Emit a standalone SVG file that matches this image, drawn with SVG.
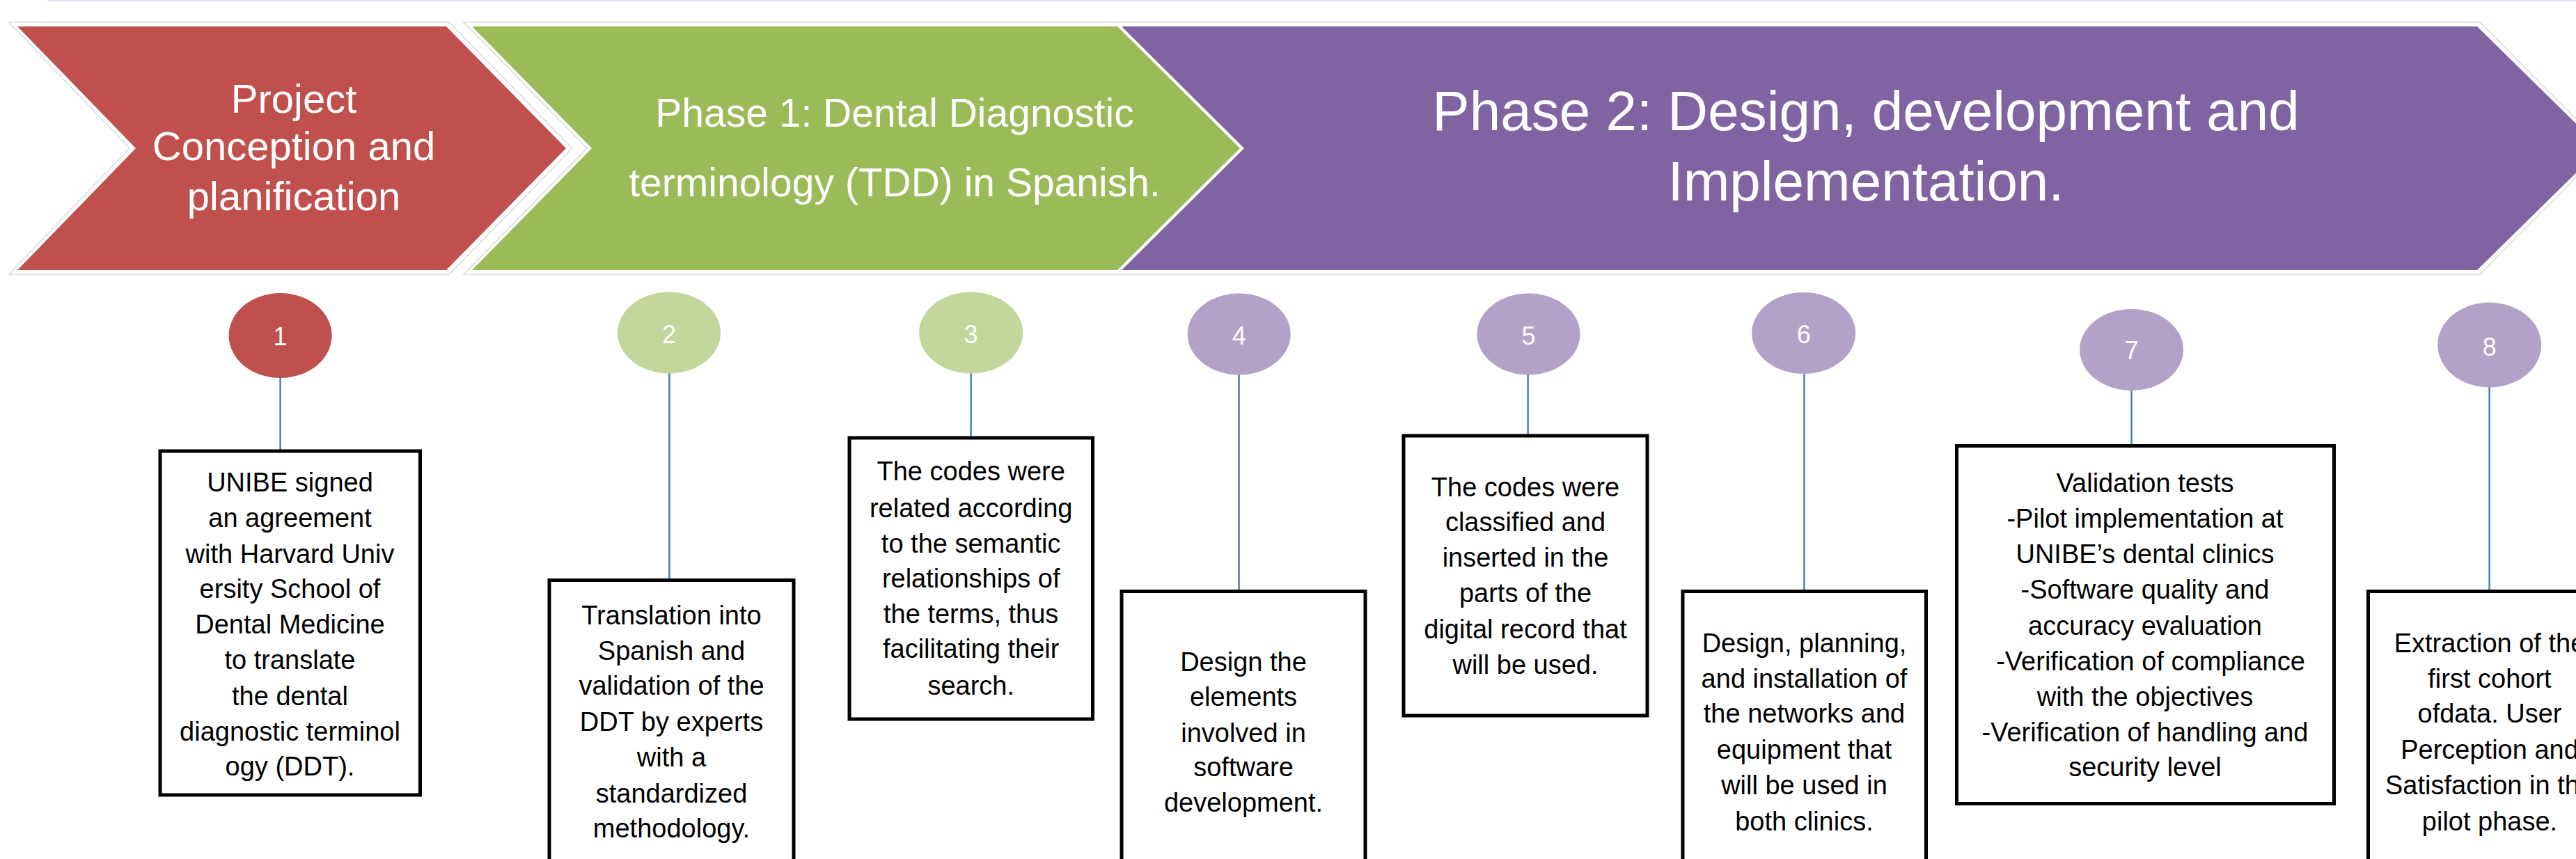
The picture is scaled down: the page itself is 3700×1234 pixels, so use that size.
<svg xmlns="http://www.w3.org/2000/svg" width="3700" height="1234" viewBox="0 0 3700 1234">
<style>
.outer{fill:#fff;stroke:#d9d9d9;stroke-width:1.5}
.title{font-family:"Liberation Sans",Arial,sans-serif;fill:#fff;text-anchor:middle}
.num{font-family:"Liberation Sans",Arial,sans-serif;font-size:36px;fill:#fff;text-anchor:middle}
.box{fill:#fff;stroke:#000;stroke-width:5}
.bt{font-family:"Liberation Sans",Arial,sans-serif;font-size:38px;fill:#000;text-anchor:middle}
.conn{stroke:#4A7EBB;stroke-width:2.5;fill:none}
.cr{fill:#C0504D}
.cg{fill:#C3D69B}
.cp{fill:#B3A2C7}
</style>
<rect x="0" y="0" width="3700" height="1234" fill="#fff"/>
<line x1="68" y1="1" x2="3700" y2="1" stroke="#dde3ee" stroke-width="2"/>

<g id="phase0">
<polygon class="outer" points="13,32 645,32 822,213 645,394 13,394 186,213"/>
<polygon fill="#C0504D" points="25,38 641,38 813,213 641,388 25,388 195,213"/>
<text class="title" font-size="58" x="422" y="162">Project</text>
<text class="title" font-size="58" x="422" y="230">Conception and</text>
<text class="title" font-size="58" x="422" y="302">planification</text>
</g>

<g id="phase2">
<polygon class="outer" points="666,32 3562,32 3742,213 3562,394 666,394 843,213"/>
<polygon fill="#8064A2" points="1611,38 3558,38 3736,213 3558,388 1611,388 1787,213"/>
<text class="title" font-size="80" x="2680" y="187">Phase 2: Design, development and</text>
<text class="title" font-size="80" x="2680" y="288">Implementation.</text>
</g>

<g id="phase1">
<polygon fill="#9BBB59" points="678,38 1605,38 1781,213 1605,388 678,388 850,213"/>
<text class="title" font-size="57" x="1285" y="182">Phase 1: Dental Diagnostic</text>
<text class="title" font-size="57" x="1285" y="282">terminology (TDD) in Spanish.</text>
</g>

<g id="connectors">
<line class="conn" x1="402.6" y1="543" x2="402.6" y2="648"/>
<line class="conn" x1="961.4" y1="536" x2="961.4" y2="833"/>
<line class="conn" x1="1394.6" y1="536" x2="1394.6" y2="629"/>
<line class="conn" x1="1779.5" y1="538" x2="1779.5" y2="849"/>
<line class="conn" x1="2194.6" y1="538" x2="2194.6" y2="626"/>
<line class="conn" x1="2591.5" y1="537" x2="2591.5" y2="849"/>
<line class="conn" x1="3061.6" y1="560" x2="3061.6" y2="640"/>
<line class="conn" x1="3575.6" y1="556" x2="3575.6" y2="849"/>
</g>

<g id="step1">
<ellipse class="cr" cx="402.6" cy="482" rx="74" ry="61"/>
<text class="num" x="402.6" y="496">1</text>
</g>
<g id="step2">
<ellipse class="cg" cx="961" cy="478" rx="74" ry="58.5"/>
<text class="num" x="961" y="493">2</text>
</g>
<g id="step3">
<ellipse class="cg" cx="1394.6" cy="478" rx="74.5" ry="58.5"/>
<text class="num" x="1394.6" y="493">3</text>
</g>
<g id="step4">
<ellipse class="cp" cx="1779.7" cy="480" rx="74" ry="58.5"/>
<text class="num" x="1779.7" y="495">4</text>
</g>
<g id="step5">
<ellipse class="cp" cx="2195.5" cy="480" rx="74" ry="58.5"/>
<text class="num" x="2195.5" y="495">5</text>
</g>
<g id="step6">
<ellipse class="cp" cx="2590.7" cy="478.5" rx="74.5" ry="58.5"/>
<text class="num" x="2590.7" y="493">6</text>
</g>
<g id="step7">
<ellipse class="cp" cx="3061.6" cy="502.4" rx="74.5" ry="58.5"/>
<text class="num" x="3061.6" y="516">7</text>
</g>
<g id="step8">
<ellipse class="cp" cx="3575.7" cy="495.5" rx="74.5" ry="61"/>
<text class="num" x="3575.7" y="511">8</text>
</g>

<g id="box1">
<rect class="box" x="230" y="648" width="373.5" height="494"/>
<text class="bt" x="416.5" y="706">UNIBE signed</text>
<text class="bt" x="416.5" y="757.4">an agreement</text>
<text class="bt" x="416.5" y="808.5">with Harvard Univ</text>
<text class="bt" x="416.5" y="858.5">ersity School of</text>
<text class="bt" x="416.5" y="909.6">Dental Medicine</text>
<text class="bt" x="416.5" y="961.2">to translate</text>
<text class="bt" x="416.5" y="1012.8">the dental</text>
<text class="bt" x="416.5" y="1063.8">diagnostic terminol</text>
<text class="bt" x="416.5" y="1113.8">ogy (DDT).</text>
</g>

<g id="box2">
<rect class="box" x="789" y="833.5" width="351" height="420"/>
<text class="bt" x="964.5" y="897.3">Translation into</text>
<text class="bt" x="964.5" y="947.9">Spanish and</text>
<text class="bt" x="964.5" y="998.4">validation of the</text>
<text class="bt" x="964.5" y="1050">DDT by experts</text>
<text class="bt" x="964.5" y="1101">with a</text>
<text class="bt" x="964.5" y="1152.7">standardized</text>
<text class="bt" x="964.5" y="1203.2">methodology.</text>
</g>

<g id="box3">
<rect class="box" x="1220" y="629" width="349.5" height="404"/>
<text class="bt" x="1394.7" y="690">The codes were</text>
<text class="bt" x="1394.7" y="743">related according</text>
<text class="bt" x="1394.7" y="793.6">to the semantic</text>
<text class="bt" x="1394.7" y="844.1">relationships of</text>
<text class="bt" x="1394.7" y="894.7">the terms, thus</text>
<text class="bt" x="1394.7" y="945.2">facilitating their</text>
<text class="bt" x="1394.7" y="998.4">search.</text>
</g>

<g id="box4">
<rect class="box" x="1611" y="849.5" width="350" height="400"/>
<text class="bt" x="1786" y="963.8">Design the</text>
<text class="bt" x="1786" y="1014.4">elements</text>
<text class="bt" x="1786" y="1066">involved in</text>
<text class="bt" x="1786" y="1115.4">software</text>
<text class="bt" x="1786" y="1166">development.</text>
</g>

<g id="box5">
<rect class="box" x="2016" y="626" width="350" height="402"/>
<text class="bt" x="2191" y="712.8">The codes were</text>
<text class="bt" x="2191" y="763.3">classified and</text>
<text class="bt" x="2191" y="813.8">inserted in the</text>
<text class="bt" x="2191" y="865.4">parts of the</text>
<text class="bt" x="2191" y="917">digital record that</text>
<text class="bt" x="2191" y="968">will be used.</text>
</g>

<g id="box6">
<rect class="box" x="2417" y="849.5" width="349.5" height="400"/>
<text class="bt" x="2591.5" y="937.2">Design, planning,</text>
<text class="bt" x="2591.5" y="987.8">and installation of</text>
<text class="bt" x="2591.5" y="1038.3">the networks and</text>
<text class="bt" x="2591.5" y="1089.9">equipment that</text>
<text class="bt" x="2591.5" y="1141">will be used in</text>
<text class="bt" x="2591.5" y="1192.6">both clinics.</text>
</g>

<g id="box7">
<rect class="box" x="2810.5" y="640.5" width="542" height="514"/>
<text class="bt" x="3081" y="707.4">Validation tests</text>
<text class="bt" x="3081" y="758">-Pilot implementation at</text>
<text class="bt" x="3081" y="808.5">UNIBE’s dental clinics</text>
<text class="bt" x="3081" y="860">-Software quality and</text>
<text class="bt" x="3081" y="911.7">accuracy evaluation</text>
<text class="bt" x="3089" y="962.8">-Verification of compliance</text>
<text class="bt" x="3081" y="1014.4">with the objectives</text>
<text class="bt" x="3081" y="1064.9">-Verification of handling and</text>
<text class="bt" x="3081" y="1115.4">security level</text>
</g>

<g id="box8">
<rect class="box" x="3401.5" y="849.5" width="360" height="400"/>
<text class="bt" x="3576" y="937.2">Extraction of the</text>
<text class="bt" x="3576" y="987.8">first cohort</text>
<text class="bt" x="3576" y="1038.3">ofdata. User</text>
<text class="bt" x="3576" y="1089.9">Perception and</text>
<text class="bt" x="3576" y="1141">Satisfaction in the</text>
<text class="bt" x="3576" y="1192.6">pilot phase.</text>
</g>
</svg>
